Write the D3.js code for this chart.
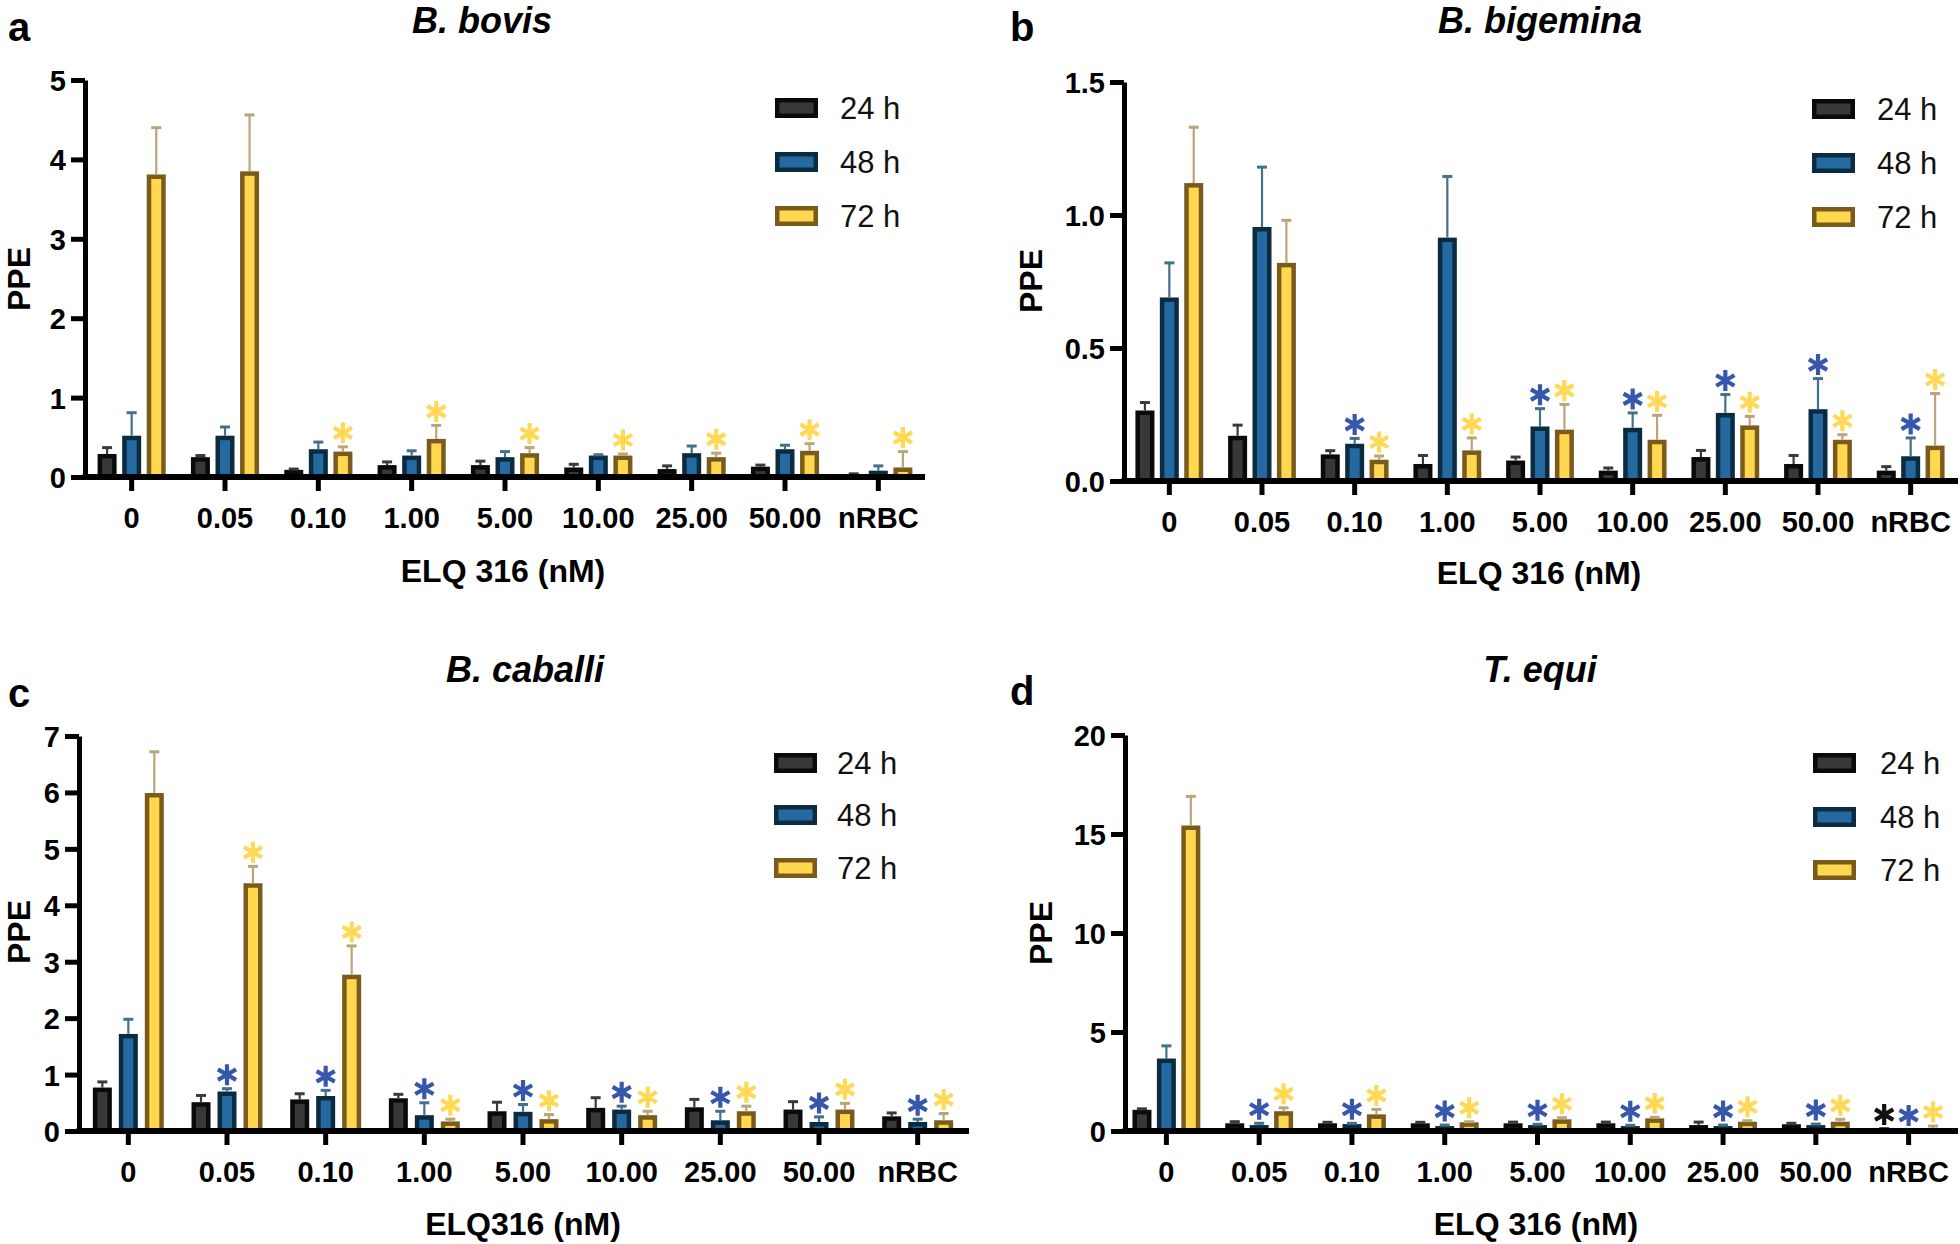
<!DOCTYPE html>
<html><head><meta charset="utf-8">
<script src="https://cdn.jsdelivr.net/npm/d3@7"></script>
<style>
body{margin:0;background:#fff;}
svg{display:block;font-family:"Liberation Sans",Arial,Helvetica,sans-serif;}
</style></head><body>
<svg id="chart" width="1960" height="1244"></svg>
<script>
// ---------------- DATA ----------------
const categories = ["0","0.05","0.10","1.00","5.00","10.00","25.00","50.00","nRBC"];
const seriesNames = ["24 h","48 h","72 h"];

// a: B. bovis
const bovisMean24 = [0.29,0.25,0.09,0.15,0.15,0.12,0.10,0.13,0.02];
const bovisSd24   = [0.08,0.02,0.01,0.04,0.05,0.04,0.04,0.02,0.02];
const bovisMean48 = [0.52,0.52,0.35,0.27,0.25,0.27,0.30,0.35,0.08];
const bovisSd48   = [0.29,0.11,0.09,0.06,0.07,0.01,0.09,0.05,0.06];
const bovisMean72 = [3.81,3.85,0.32,0.48,0.30,0.27,0.25,0.33,0.12];
const bovisSd72   = [0.59,0.71,0.06,0.17,0.07,0.02,0.05,0.09,0.20];
const bovisStar24 = [0,0,0,0,0,0,0,0,0];
const bovisStar48 = [0,0,0,0,0,0,0,0,0];
const bovisStar72 = [0,0,1,1,1,1,1,1,1];
const bovisTicks = [0,1,2,3,4,5];

// b: B. bigemina
const bigMean24 = [0.265,0.17,0.10,0.064,0.077,0.039,0.09,0.064,0.039];
const bigSd24   = [0.03,0.04,0.014,0.032,0.013,0.01,0.025,0.032,0.015];
const bigMean48 = [0.69,0.955,0.14,0.915,0.205,0.20,0.256,0.27,0.093];
const bigSd48   = [0.13,0.225,0.02,0.23,0.067,0.056,0.069,0.115,0.069];
const bigMean72 = [1.12,0.82,0.08,0.115,0.193,0.155,0.209,0.155,0.133];
const bigSd72   = [0.21,0.16,0.014,0.047,0.095,0.092,0.034,0.019,0.196];
const bigStar24 = [0,0,0,0,0,0,0,0,0];
const bigStar48 = [0,0,1,0,1,1,1,1,1];
const bigStar72 = [0,0,1,1,1,1,1,1,1];
const bigTicks = [0,0.5,1.0,1.5];

// c: B. caballi
const cabMean24 = [0.77,0.51,0.56,0.58,0.35,0.41,0.42,0.38,0.26];
const cabSd24   = [0.10,0.12,0.10,0.07,0.16,0.18,0.14,0.14,0.06];
const cabMean48 = [1.72,0.70,0.62,0.28,0.34,0.38,0.19,0.16,0.16];
const cabSd48   = [0.26,0.05,0.10,0.22,0.13,0.06,0.16,0.09,0.05];
const cabMean72 = [5.99,4.39,2.77,0.17,0.21,0.28,0.35,0.38,0.19];
const cabSd72   = [0.73,0.30,0.51,0.04,0.08,0.07,0.09,0.11,0.12];
const cabStar24 = [0,0,0,0,0,0,0,0,0];
const cabStar48 = [0,1,1,1,1,1,1,1,1];
const cabStar72 = [0,1,1,1,1,1,1,1,1];
const cabTicks = [0,1,2,3,4,5,6,7];

// d: T. equi
const equiMean24 = [1.07,0.39,0.39,0.39,0.39,0.39,0.30,0.34,0.08];
const equiSd24   = [0.05,0.08,0.05,0.05,0.06,0.06,0.15,0.05,0.04];
const equiMean48 = [3.66,0.30,0.35,0.25,0.30,0.25,0.25,0.30,0.05];
const equiSd48   = [0.64,0.09,0.04,0.05,0.04,0.04,0.05,0.05,0.03];
const equiMean72 = [15.43,1.00,0.84,0.44,0.59,0.64,0.47,0.47,0.08];
const equiSd72   = [1.47,0.17,0.25,0.03,0.08,0.05,0.05,0.12,0.17];
const equiStar24 = [0,0,0,0,0,0,0,0,1];
const equiStar48 = [0,1,1,1,1,1,1,1,1];
const equiStar72 = [0,1,1,1,1,1,1,1,1];
const equiTicks = [0,5,10,15,20];

// ---------------- STYLE / LAYOUT ----------------
const seriesStyle = [
  {fill:"#383838", stroke:"#0a0a0a", err:"#3a3a3a", star:"#111111"},
  {fill:"#246aa1", stroke:"#0b2c40", err:"#44708a", star:"#3757ad"},
  {fill:"#ffd84f", stroke:"#7a5b1c", err:"#b8a57c", star:"#ffd955"}
];

const panels = [
  {letter:"a", title:"B. bovis", xlabel:"ELQ 316 (nM)", yMax:5, ticks:bovisTicks, fmt:d3.format("d"),
   mean:[bovisMean24,bovisMean48,bovisMean72], sd:[bovisSd24,bovisSd48,bovisSd72], star:[bovisStar24,bovisStar48,bovisStar72],
   L:{ax:85, y0:477, yTop:80, xr:[85,925], xEnd:925, titleX:482, titleY:33, letX:8, letY:41, ylX:19, ylY:279, xlX:503, xlY:582, lgX:775, lgY:[108,162,216], lgT:840}},
  {letter:"b", title:"B. bigemina", xlabel:"ELQ 316 (nM)", yMax:1.5, ticks:bigTicks, fmt:d3.format(".1f"),
   mean:[bigMean24,bigMean48,bigMean72], sd:[bigSd24,bigSd48,bigSd72], star:[bigStar24,bigStar48,bigStar72],
   L:{ax:1124, y0:481, yTop:82, xr:[1123,1957], xEnd:1958, titleX:1540, titleY:33, letX:1010, letY:41, ylX:1031, ylY:281, xlX:1539, xlY:584, lgX:1812, lgY:[109,163,217], lgT:1877}},
  {letter:"c", title:"B. caballi", xlabel:"ELQ316 (nM)", yMax:7, ticks:cabTicks, fmt:d3.format("d"),
   mean:[cabMean24,cabMean48,cabMean72], sd:[cabSd24,cabSd48,cabSd72], star:[cabStar24,cabStar48,cabStar72],
   L:{ax:79, y0:1131, yTop:736, xr:[79,967], xEnd:969, titleX:525, titleY:682, letX:8, letY:707, ylX:19, ylY:932, xlX:523, xlY:1235, lgX:774, lgY:[763,815,868], lgT:837}},
  {letter:"d", title:"T. equi", xlabel:"ELQ 316 (nM)", yMax:20, ticks:equiTicks, fmt:d3.format("d"),
   mean:[equiMean24,equiMean48,equiMean72], sd:[equiSd24,equiSd48,equiSd72], star:[equiStar24,equiStar48,equiStar72],
   L:{ax:1125, y0:1131, yTop:735, xr:[1120,1955], xEnd:1958, titleX:1540, titleY:682, letX:1010, letY:705, ylX:1041, ylY:933, xlX:1536, xlY:1235, lgX:1813, lgY:[763,817,870], lgT:1880}}
];

const svg = d3.select("#chart");
const BAR_W = 19, BAR_SW = 4.5;

function starPath(r){
  let p = "";
  [90,30,-30].forEach(a=>{
    const rad = a*Math.PI/180, dx = r*Math.cos(rad), dy = r*Math.sin(rad);
    p += `M${-dx},${dy}L${dx},${-dy}`;
  });
  return p;
}

panels.forEach(P=>{
  const L = P.L;
  const g = svg.append("g");
  const y = d3.scaleLinear().domain([0,P.yMax]).range([L.y0,L.yTop]);
  const x = d3.scaleBand().domain(categories).range(L.xr).padding(0);
  const step = x.step();
  const xs = d3.scaleBand().domain(seriesNames).range([-0.395*step, 0.395*step]).padding(0);

  // bars
  seriesNames.forEach((s,si)=>{
    const st = seriesStyle[si];
    const rows = categories.map((c,i)=>({c, m:P.mean[si][i], sd:P.sd[si][i], star:P.star[si][i]}));
    const cx = d => x(d.c) + step/2 + xs(s) + xs.bandwidth()/2;
    g.append("g").selectAll("rect").data(rows).join("rect")
      .attr("x", d=>cx(d)-BAR_W/2+BAR_SW/2)
      .attr("width", BAR_W-BAR_SW)
      .attr("y", d=>y(d.m)+BAR_SW/2)
      .attr("height", d=>Math.max(0, L.y0 - y(d.m) - BAR_SW/2))
      .attr("fill", st.fill).attr("stroke", st.stroke).attr("stroke-width", BAR_SW);
    // error bars (upper)
    const eg = g.append("g").attr("stroke", st.err).attr("stroke-width", 2.2).attr("fill","none");
    eg.selectAll("line.v").data(rows).join("line").attr("class","v")
      .attr("x1",cx).attr("x2",cx).attr("y1",d=>y(d.m)).attr("y2",d=>y(d.m+d.sd));
    eg.selectAll("line.c").data(rows).join("line").attr("class","c")
      .attr("x1",d=>cx(d)-5).attr("x2",d=>cx(d)+5).attr("y1",d=>y(d.m+d.sd)).attr("y2",d=>y(d.m+d.sd))
      .attr("stroke-width",3);
    // stars
    g.append("g").selectAll("path").data(rows.filter(d=>d.star)).join("path")
      .attr("d", starPath(10.5))
      .attr("transform", d=>`translate(${cx(d)},${y(d.m+d.sd)-14})`)
      .attr("stroke", st.star).attr("stroke-width", 4.2).attr("stroke-linecap","butt").attr("fill","none");
  });

  // y axis
  const ya = g.append("g").attr("transform",`translate(${L.ax},0)`)
    .call(d3.axisLeft(y).tickValues(P.ticks).tickFormat(P.fmt).tickSize(14).tickSizeOuter(0).tickPadding(5));
  ya.select(".domain").attr("stroke","#000").attr("stroke-width",5);
  ya.selectAll(".tick line").attr("stroke","#000").attr("stroke-width",5);
  ya.selectAll(".tick text").attr("fill","#000").attr("font-size",29).attr("font-weight","bold")
    .attr("font-family","'Liberation Sans',Arial,sans-serif").attr("dy","0.36em");

  // x axis
  const xa = g.append("g").attr("transform",`translate(0,${L.y0})`)
    .call(d3.axisBottom(x).tickSize(14).tickSizeOuter(0));
  xa.select(".domain").remove();
  xa.selectAll(".tick line").attr("stroke","#000").attr("stroke-width",5);
  xa.selectAll(".tick text").attr("fill","#000").attr("font-size",29).attr("font-weight","bold")
    .attr("font-family","'Liberation Sans',Arial,sans-serif").attr("y",51).attr("dy",0);
  g.append("line").attr("x1",L.ax-2.5).attr("x2",L.xEnd).attr("y1",L.y0).attr("y2",L.y0)
    .attr("stroke","#000").attr("stroke-width",6);

  // labels
  g.append("text").attr("x",L.letX).attr("y",L.letY).text(P.letter)
    .attr("font-size",40).attr("font-weight","bold");
  g.append("text").attr("x",L.titleX).attr("y",L.titleY).attr("text-anchor","middle").text(P.title)
    .attr("font-size",36).attr("font-weight","bold").attr("font-style","italic");
  g.append("text").attr("transform",`translate(${L.ylX},${L.ylY}) rotate(-90)`).attr("text-anchor","middle")
    .attr("dominant-baseline","central").text("PPE").attr("font-size",32).attr("font-weight","bold");
  g.append("text").attr("x",L.xlX).attr("y",L.xlY).attr("text-anchor","middle").text(P.xlabel)
    .attr("font-size",32).attr("font-weight","bold");

  // legend
  const lg = g.append("g");
  seriesNames.forEach((s,si)=>{
    const st = seriesStyle[si];
    lg.append("rect").attr("x",L.lgX+BAR_SW/2).attr("y",L.lgY[si]-10+BAR_SW/2)
      .attr("width",43-BAR_SW).attr("height",20-BAR_SW)
      .attr("fill",st.fill).attr("stroke",st.stroke).attr("stroke-width",BAR_SW);
    lg.append("text").attr("x",L.lgT).attr("y",L.lgY[si]).attr("dominant-baseline","central")
      .text(s).attr("font-size",31).attr("fill","#111");
  });
});
</script>
</body></html>
